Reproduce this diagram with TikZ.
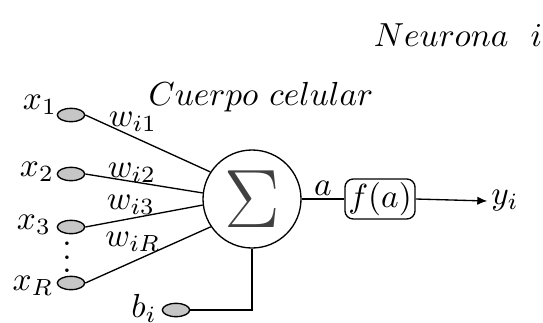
\documentclass[tikz,border=0pt]{standalone}
\usetikzlibrary{shapes.geometric,arrows.meta}
\begin{document}
\begin{tikzpicture}[x=0.3pt, y=-0.3pt,
  entrada/.style={draw, ellipse, fill=gray!45, minimum width=8.2pt, minimum height=4pt, inner sep=0pt},
  peso/.style={inner sep=1pt}]
  \useasboundingbox (0,0) rectangle (543,322);
  % Titles
  \node (neurona) at (458,35) {$Neurona\ \ i$};
  \node (cuerpo) at (261,97) {$Cuerpo\ celular$};
  % Body
  \node[draw, circle, minimum size=29.4pt, inner sep=0pt] (suma) at (252,199) {\Huge\color{black!75}$\Sigma$};
  % Inputs
  \node[entrada] (e1) at (71,115) {};
  \node[entrada] (e2) at (71,174) {};
  \node[entrada] (e3) at (71,227) {};
  \node[entrada] (eR) at (71,283) {};
  \node[entrada] (eb) at (176,310) {};
  \node (x1) at (40,105) {$x_1$};
  \node (x2) at (37,172) {$x_2$};
  \node (x3) at (34,225) {$x_3$};
  \node[inner sep=0pt, anchor=south] (dots) at (67,273) {$\vdots$};
  \node (xR) at (33,286) {$x_R$};
  \node (bi) at (144,308) {$b_i$};
  \draw (e1.east) -- (suma.147) node[peso] at (133,122) {$w_{i1}$};
  \draw (e2.east) -- (suma.173) node[peso] at (132,173) {$w_{i2}$};
  \draw (e3.east) -- (suma.187) node[peso] at (131,205) {$w_{i3}$};
  \draw (eR.east) -- (suma.214) node[peso] at (133,242) {$w_{iR}$};
  \draw (eb.east) -| (suma.south);
  % Output
  \node[draw, rounded corners=2.5pt, minimum width=19.5pt, minimum height=10.5pt, inner sep=1pt] (fa) at (380,199) {$f(a)$};
  \node[inner sep=1pt] (yi) at (505,201) {$y_i$};
  \draw (suma.east) -- (fa.west) node[midway, above, inner sep=1pt] {$a$};
  \draw[-{Latex[length=3pt, width=2.5pt]}] (fa.east) -- (yi.west);
\end{tikzpicture}
\end{document}
